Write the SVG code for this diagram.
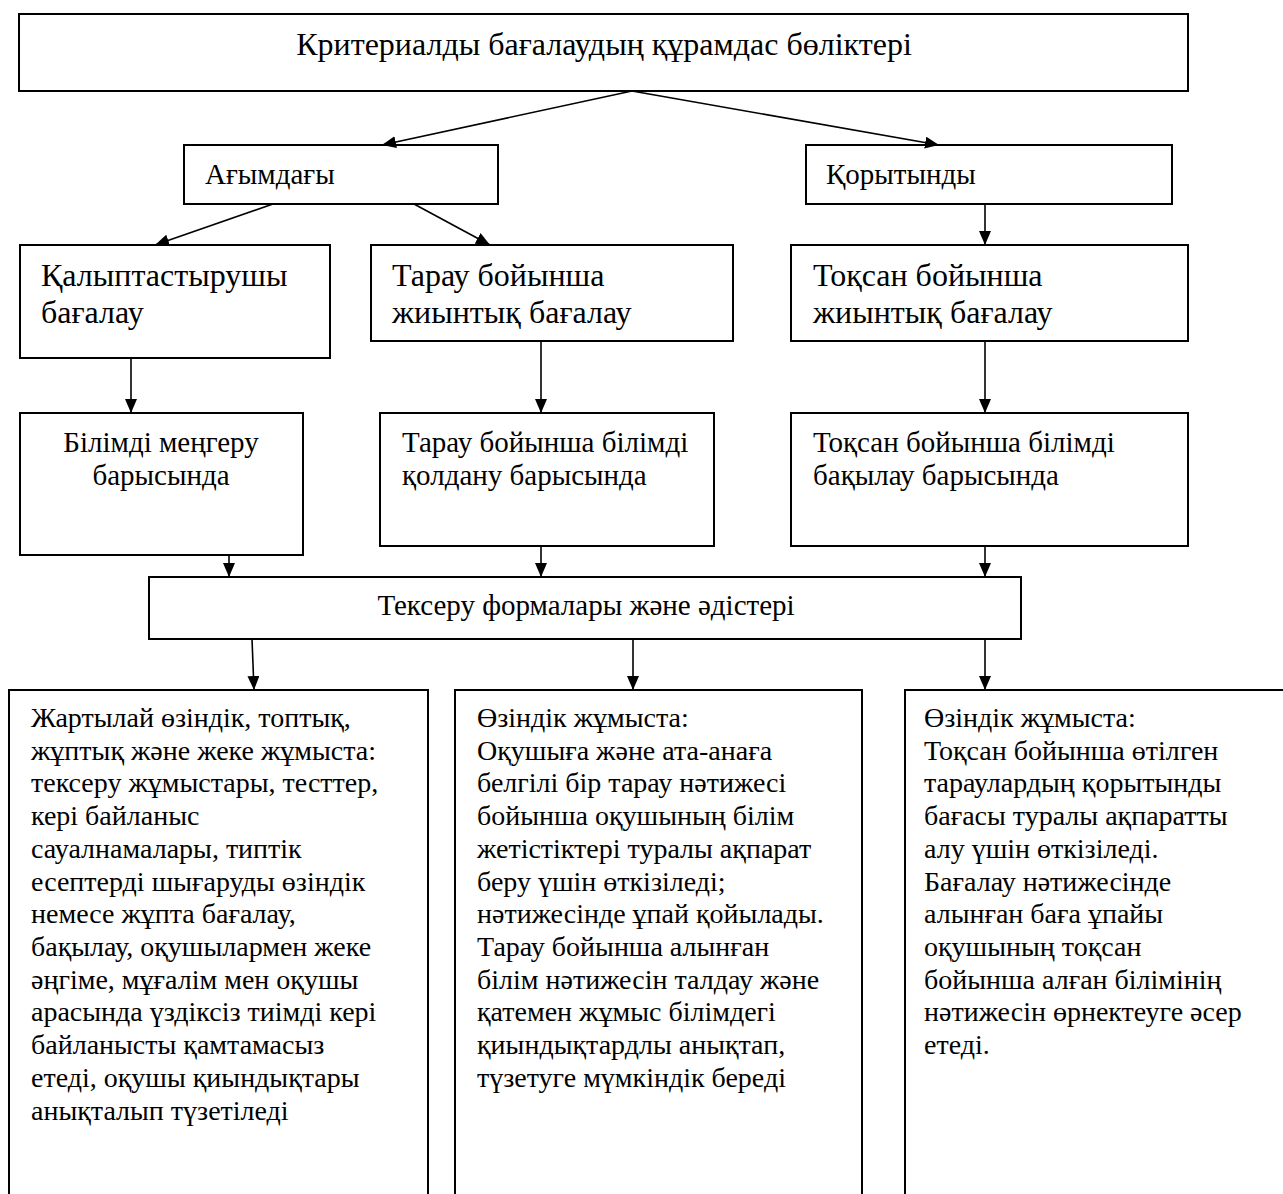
<svg xmlns="http://www.w3.org/2000/svg" width="1283" height="1194" viewBox="0 0 1283 1194">
<style>
.box{fill:#fff;stroke:#000;stroke-width:2}
.t{font-family:"Liberation Serif","Times New Roman",serif;fill:#000;font-size:29px}
.s{font-size:28px}
.L{font-size:32px}
.c{text-anchor:middle}
.ln{stroke:#000;stroke-width:1.6;fill:none;marker-end:url(#ah)}
</style>
<defs>
<marker id="ah" viewBox="0 0 14 12" refX="14" refY="6" markerWidth="14" markerHeight="12" markerUnits="userSpaceOnUse" orient="auto">
<path d="M0,0 L14,6 L0,12 z" fill="#000"/>
</marker>
</defs>
<rect width="1283" height="1194" fill="#fff"/>
<g id="n-title"><rect class="box" x="19" y="14" width="1169" height="77"/><text class="t L c" x="604" y="55">Критериалды бағалаудың құрамдас бөліктері</text></g>
<g id="n-agymdagy"><rect class="box" x="184" y="145" width="314" height="59"/><text class="t" x="205" y="184">Ағымдағы</text></g>
<g id="n-korytyndy"><rect class="box" x="806" y="145" width="366" height="59"/><text class="t" x="826" y="184">Қорытынды</text></g>
<g id="n-kalyp"><rect class="box" x="20" y="245" width="310" height="113"/><text class="t L" x="41" y="286">Қалыптастырушы</text><text class="t L" x="41" y="323">бағалау</text></g>
<g id="n-tarau"><rect class="box" x="371" y="245" width="362" height="96"/><text class="t L" x="392" y="286">Тарау бойынша</text><text class="t L" x="392" y="323">жиынтық бағалау</text></g>
<g id="n-toksan"><rect class="box" x="791" y="245" width="397" height="96"/><text class="t L" x="813" y="286">Тоқсан бойынша</text><text class="t L" x="813" y="323">жиынтық бағалау</text></g>
<g id="n-bilim1"><rect class="box" x="20" y="413" width="283" height="142"/><text class="t c" x="161" y="452">Білімді меңгеру</text><text class="t c" x="161" y="485">барысында</text></g>
<g id="n-bilim2"><rect class="box" x="380" y="413" width="334" height="133"/><text class="t" x="402" y="452">Тарау бойынша білімді</text><text class="t" x="402" y="485">қолдану барысында</text></g>
<g id="n-bilim3"><rect class="box" x="791" y="413" width="397" height="133"/><text class="t" x="813" y="452">Тоқсан бойынша білімді</text><text class="t" x="813" y="485">бақылау барысында</text></g>
<g id="n-tekseru"><rect class="box" x="149" y="577" width="872" height="62"/><text class="t c" x="586" y="615">Тексеру формалары және әдістері</text></g>
<g id="n-b1"><rect class="box" x="9" y="690" width="419" height="530"/>
<text class="t s" x="31" y="727">Жартылай өзіндік, топтық,</text>
<text class="t s" x="31" y="760">жұптық және жеке жұмыста:</text>
<text class="t s" x="31" y="792">тексеру жұмыстары, тесттер,</text>
<text class="t s" x="31" y="825">кері байланыс</text>
<text class="t s" x="31" y="858">сауалнамалары, типтік</text>
<text class="t s" x="31" y="891">есептерді шығаруды өзіндік</text>
<text class="t s" x="31" y="923">немесе жұпта бағалау,</text>
<text class="t s" x="31" y="956">бақылау, оқушылармен жеке</text>
<text class="t s" x="31" y="989">әңгіме, мұғалім мен оқушы</text>
<text class="t s" x="31" y="1021">арасында үздіксіз тиімді кері</text>
<text class="t s" x="31" y="1054">байланысты қамтамасыз</text>
<text class="t s" x="31" y="1087">етеді, оқушы қиындықтары</text>
<text class="t s" x="31" y="1120">анықталып түзетіледі</text>
</g>
<g id="n-b2"><rect class="box" x="455" y="690" width="407" height="530"/>
<text class="t s" x="477" y="727">Өзіндік жұмыста:</text>
<text class="t s" x="477" y="760">Оқушыға және ата-анаға</text>
<text class="t s" x="477" y="792">белгілі бір тарау нәтижесі</text>
<text class="t s" x="477" y="825">бойынша оқушының білім</text>
<text class="t s" x="477" y="858">жетістіктері туралы ақпарат</text>
<text class="t s" x="477" y="891">беру үшін өткізіледі;</text>
<text class="t s" x="477" y="923">нәтижесінде ұпай қойылады.</text>
<text class="t s" x="477" y="956">Тарау бойынша алынған</text>
<text class="t s" x="477" y="989">білім нәтижесін талдау және</text>
<text class="t s" x="477" y="1021">қатемен жұмыс білімдегі</text>
<text class="t s" x="477" y="1054">қиындықтардлы анықтап,</text>
<text class="t s" x="477" y="1087">түзетуге мүмкіндік береді</text>
</g>
<g id="n-b3"><rect class="box" x="905" y="690" width="400" height="530"/>
<text class="t s" x="924" y="727">Өзіндік жұмыста:</text>
<text class="t s" x="924" y="760">Тоқсан бойынша өтілген</text>
<text class="t s" x="924" y="792">тараулардың қорытынды</text>
<text class="t s" x="924" y="825">бағасы туралы ақпаратты</text>
<text class="t s" x="924" y="858">алу үшін өткізіледі.</text>
<text class="t s" x="924" y="891">Бағалау нәтижесінде</text>
<text class="t s" x="924" y="923">алынған баға ұпайы</text>
<text class="t s" x="924" y="956">оқушының тоқсан</text>
<text class="t s" x="924" y="989">бойынша алған білімінің</text>
<text class="t s" x="924" y="1021">нәтижесін өрнектеуге әсер</text>
<text class="t s" x="924" y="1054">етеді.</text>
</g>
<g id="connectors">
<line class="ln" x1="632" y1="91" x2="382" y2="145"/>
<line class="ln" x1="632" y1="91" x2="939" y2="145"/>
<line class="ln" x1="273" y1="204" x2="155" y2="245"/>
<line class="ln" x1="414" y1="204" x2="490" y2="245"/>
<line class="ln" x1="985" y1="204" x2="985" y2="245"/>
<line class="ln" x1="131" y1="358" x2="131" y2="413"/>
<line class="ln" x1="541" y1="341" x2="541" y2="413"/>
<line class="ln" x1="985" y1="341" x2="985" y2="413"/>
<line class="ln" x1="229" y1="555" x2="229" y2="577"/>
<line class="ln" x1="541" y1="546" x2="541" y2="577"/>
<line class="ln" x1="985" y1="546" x2="985" y2="577"/>
<line class="ln" x1="252" y1="639" x2="254" y2="690"/>
<line class="ln" x1="633" y1="639" x2="633" y2="690"/>
<line class="ln" x1="985" y1="639" x2="985" y2="690"/>
</g>
</svg>
